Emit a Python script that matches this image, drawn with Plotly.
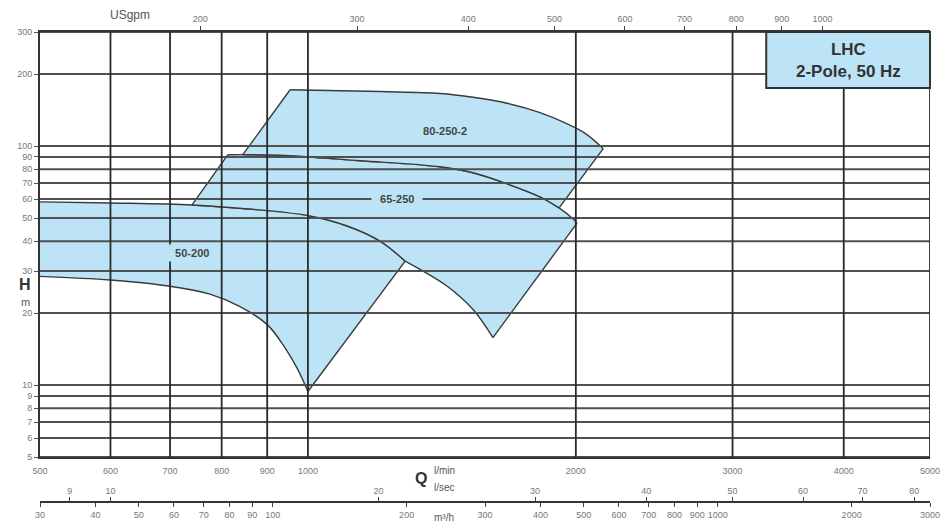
import math
import plotly.graph_objects as go

# axis ticks
q_ticks = [500, 600, 700, 800, 900, 1000, 2000, 3000, 4000, 5000]        # l/min
q_grid = [600, 700, 800, 900, 1000, 2000, 3000, 4000, 5000]
h_ticks = [5, 6, 7, 8, 9, 10, 20, 30, 40, 50, 60, 70, 80, 90, 100, 200, 300]  # m
usgpm_ticks = [200, 300, 400, 500, 600, 700, 800, 900, 1000]
lsec_ticks = [9, 10, 20, 30, 40, 50, 60, 70, 80]
m3h_ticks = [30, 40, 50, 60, 70, 80, 90, 100, 200, 300, 400, 500, 600, 700, 800, 900, 1000, 2000, 3000]

# pump ranges (Q in l/min, H in m)
q_50200 = [500, 600, 741, 861, 1005, 1107, 1205, 1286,
           1000, 972, 937, 900, 839, 776, 700, 600, 500]
h_50200 = [58.4, 57.8, 56.7, 54.5, 51, 46.3, 40, 33,
           9.4, 11.8, 14.8, 17.9, 21.3, 24.0, 25.9, 27.5, 28.5]

q_65250 = [741, 813, 930, 1145, 1407, 1533, 1674, 1823, 1915, 1986, 2006,
           1614, 1533, 1434, 1286, 1205, 1107, 1005, 861, 741]
h_65250 = [56.7, 92, 91.5, 86.8, 81.9, 77.3, 69.5, 61.3, 55.1, 49.5, 47.6,
           15.8, 20.7, 25.9, 33, 40, 46.3, 51, 54.5, 56.7]

q_80250 = [845, 955, 1205, 1407, 1533, 1674, 1823, 1945, 2049, 2147,
           1915, 1823, 1674, 1533, 1407, 1145, 930, 845]
h_80250 = [92, 172, 169, 166, 160, 151, 138, 125, 113, 97.5,
           55.1, 61.3, 69.5, 77.3, 81.9, 86.8, 91.5, 92]

labels = ["50-200", "65-250", "80-250-2"]
label_q = [741, 1259, 1426]
label_h = [35.6, 60, 116]

FILL = "#bde4f6"
EDGE = "#3a3a3a"
TICKFONT = dict(family="Liberation Sans", size=9, color="#777")

# (region, [(first, last, curved?), ...]) - outline pieces by point index
regions = [
    (q_50200, h_50200, [(0, 7, True), (7, 8, False), (8, 16, True)]),
    (q_65250, h_65250, [(0, 1, False), (1, 10, True), (10, 11, False), (11, 14, True), (14, 19, True)]),
    (q_80250, h_80250, [(0, 1, False), (1, 9, True), (9, 10, False), (10, 17, True)]),
]

fig = go.Figure()
for q, h, pieces in regions:
    fig.add_trace(go.Scatter(x=q, y=h, mode="lines", fill="toself", fillcolor=FILL,
                             line=dict(width=0), hoverinfo="skip", showlegend=False))
    for a, b, curved in pieces:
        fig.add_trace(go.Scatter(x=q[a:b + 1], y=h[a:b + 1], mode="lines",
                                 line=dict(color=EDGE, width=1.4,
                                           shape="spline" if curved else "linear",
                                           smoothing=1.0),
                                 hoverinfo="skip", showlegend=False))

# invisible traces so the extra scales get drawn
fig.add_trace(go.Scatter(x=usgpm_ticks, y=h_ticks[:len(usgpm_ticks)], xaxis="x2", mode="markers",
                         marker=dict(opacity=0), hoverinfo="skip", showlegend=False))
fig.add_trace(go.Scatter(x=lsec_ticks, y=h_ticks[:len(lsec_ticks)], xaxis="x3", mode="markers",
                         marker=dict(opacity=0), hoverinfo="skip", showlegend=False))
fig.add_trace(go.Scatter(x=m3h_ticks, y=h_ticks + h_ticks[:2], xaxis="x4", mode="markers",
                         marker=dict(opacity=0), hoverinfo="skip", showlegend=False))

shapes = []
for h in h_ticks:
    shapes.append(dict(type="line", xref="x domain", x0=0, x1=1, yref="y", y0=h, y1=h,
                       line=dict(color="#505050", width=2), layer="above"))
for q in q_grid:
    shapes.append(dict(type="line", yref="y domain", y0=0, y1=1, xref="x", x0=q, x1=q,
                       line=dict(color="#2a2a2a", width=1.8), layer="above"))
# title box
shapes.append(dict(type="rect", xref="paper", yref="paper", x0=0.816, x1=1.0, y0=0.881, y1=1.0,
                   fillcolor=FILL, line=dict(color="#333", width=2), layer="above"))

annotations = []
for t, q, h in zip(labels, label_q, label_h):
    annotations.append(dict(x=math.log10(q), y=math.log10(h), xref="x", yref="y",
                            xanchor="center", yanchor="middle",
                            text="<b>&nbsp;&nbsp;" + t + "&nbsp;&nbsp;</b>", showarrow=False,
                            bgcolor=FILL, borderpad=2,
                            font=dict(family="Liberation Sans", size=11, color="#444")))


def note(x, y, text, size, color, anchor="center"):
    return dict(x=x, y=y, xref="paper", yref="paper", showarrow=False, text=text,
                xanchor=anchor, yanchor="middle",
                font=dict(family="Liberation Sans", size=size, color=color))


annotations += [
    note(0.908, 0.940, "<b>LHC<br>2-Pole, 50 Hz</b>", 17, "#333"),
    note(0.101, 1.036, "USgpm", 12, "#555"),
    note(-0.017, 0.462, "<b>H</b>", 16, "#333"),
    note(-0.016, 0.426, "m", 11, "#555"),
    note(0.428, 0.051, "<b>Q</b>", 16, "#333"),
    note(0.441, 0.068, "l/min", 10, "#555", "left"),
    note(0.441, 0.030, "l/sec", 10, "#555", "left"),
    note(0.441, -0.032, "m³/h", 10, "#555", "left"),
]

qmin, qmax = 500, 5000
axis_common = dict(type="log", showgrid=False, showline=True, linecolor="#333",
                   tickfont=TICKFONT, zeroline=False, automargin=False)
fig.update_layout(
    width=943, height=514,
    margin=dict(l=32, r=21, t=24, b=20),
    paper_bgcolor="white", plot_bgcolor="white",
    shapes=shapes, annotations=annotations,
    xaxis=dict(axis_common, range=[math.log10(qmin), math.log10(qmax)], domain=[0, 1],
               tickvals=q_ticks, ticktext=[str(v) for v in q_ticks], ticks="",
               linewidth=2, ticklabelstandoff=4),
    yaxis=dict(axis_common, range=[math.log10(5), math.log10(300)], domain=[0.0957, 1],
               tickvals=h_ticks, ticktext=[str(v) for v in h_ticks], ticks="outside",
               ticklen=4, tickcolor="#555", linewidth=2),
    xaxis2=dict(axis_common, overlaying="x", anchor="y", side="top",
                range=[math.log10(qmin / 3.785), math.log10(qmax / 3.785)],
                tickvals=usgpm_ticks, ticktext=[str(v) for v in usgpm_ticks],
                ticks="outside", ticklen=4, tickcolor="#444", linewidth=2),
    xaxis3=dict(axis_common, overlaying="x", anchor="free", position=0, side="top",
                range=[math.log10(qmin / 60), math.log10(qmax / 60)],
                tickvals=lsec_ticks, ticktext=[str(v) for v in lsec_ticks],
                ticks="outside", ticklen=4, tickcolor="#444", linewidth=1.5),
    xaxis4=dict(axis_common, overlaying="x", anchor="free", position=0, side="bottom",
                range=[math.log10(30), math.log10(3000)],
                tickvals=m3h_ticks, ticktext=[str(v) for v in m3h_ticks],
                ticks="outside", ticklen=4, tickcolor="#444", linewidth=1.5),
)

fig.write_html("out.html")
